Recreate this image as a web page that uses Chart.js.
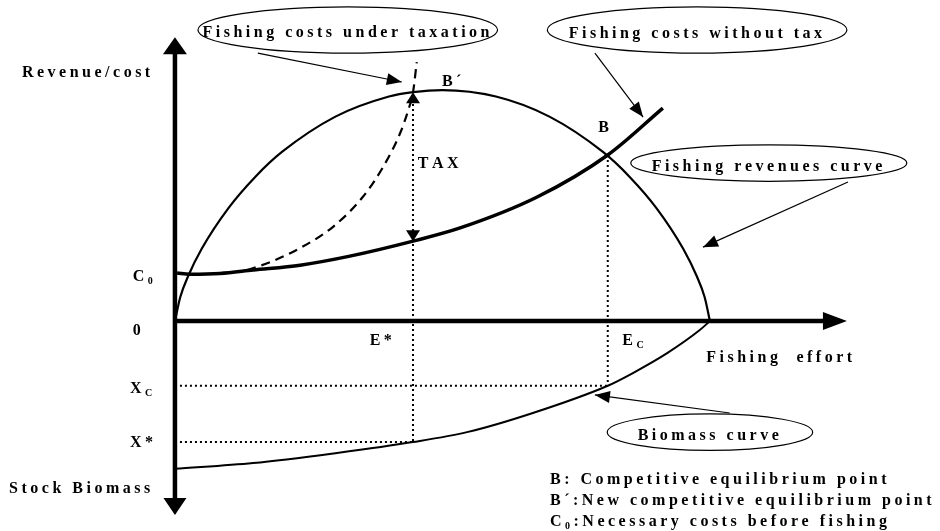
<!DOCTYPE html>
<html>
<head>
<meta charset="utf-8">
<script src="https://cdn.jsdelivr.net/npm/chart.js@4.4.1/dist/chart.umd.min.js"></script>
<style>
  html, body { margin: 0; padding: 0; background: #fff; }
</style>
</head>
<body>
<canvas id="fishChart" width="940" height="531"></canvas>
<script>
// scale extents (effort on x, revenue / biomass on y)
const effortRange = [-32.7, 143];
const valueRange = [-90.9, 139];

// fishing revenues curve
const revenueEffort = [0, 1, 2.5, 5, 10, 15, 20, 30, 40, 44.5, 50, 60, 70, 80, 85, 90, 95, 97.5, 99, 100];
const revenueValue = [0, 10.4, 19.6, 31.3, 48.9, 62.4, 73.2, 88.5, 97.2, 99.1, 100, 97.2, 88.5, 73.2, 62.4, 48.9, 31.3, 19.6, 10.4, 0];

// fishing costs without tax
const costEffort = [0.4, 2.8, 8.4, 14.6, 23.4, 32.7, 44.5, 53.3, 67.7, 80.9, 91.2];
const costValue = [20.8, 20.3, 20.6, 22.1, 24.2, 28.1, 34.6, 40.3, 53.7, 71.9, 92.2];

// fishing costs under taxation
const taxedEffort = [13.5, 17.8, 23.4, 29.5, 35.1, 38.9, 42.1, 43.6, 44.5, 45.2];
const taxedValue = [22.1, 25.5, 31.6, 40.7, 53.7, 66.7, 81.4, 91.3, 99.1, 112.1];

// biomass curve (drawn below the effort axis)
const biomassEffort = [0, 14.6, 30.3, 44.5, 54.6, 66.9, 80.9, 85.6, 92.0, 98.1, 100];
const biomassValue = [-64, -61.5, -57.1, -52.4, -48.1, -39.8, -28.0, -22.5, -13.9, -3.9, 0];

// equilibrium points
const effortStar = 44.5, effortC = 80.9;
const revenueAtStar = 99.1, costAtStar = 34.6, costAtC = 71.9;
const biomassStar = -52.4, biomassC = -28.0;

// axis extents: [from, to]
const valueAxis = [-84, 122.9];
const effortAxis = [0, 125.6];

// callouts: ellipse centre, radii (data units), text, pointer from -> to
const callouts = [
  { cx: 32.3, cy: 126.0, rx: 28.0, ry: 10.0, text: "Fishing costs under taxation", ty: 122.9, from: [15.5, 116.0], to: [42.4, 103.5] },
  { cx: 97.6, cy: 126.0, rx: 28.0, ry: 10.0, text: "Fishing costs without tax", ty: 122.7, from: [78.5, 116.0], to: [87.5, 88.3] },
  { cx: 111.0, cy: 68.4, rx: 25.8, ry: 7.9, text: "Fishing revenues curve", ty: 65.1, from: [125.8, 60.2], to: [98.7, 32.0] },
  { cx: 100.0, cy: -48.1, rx: 19.2, ry: 7.9, text: "Biomass curve", ty: -51.5, from: [103.7, -39.8], to: [78.5, -32.0] }
];

// plain labels: text, x, baseline y ("_" marks a subscript character)
const labels = [
  ["Revenue/cost", -28.6, 105.6],
  ["C_0", -7.9, 17.3],
  ["0", -7.9, -6.1],
  ["E*", 36.4, -10.4],
  ["E_C", 83.6, -10.4],
  ["Fishing  effort", 99.3, -17.7],
  ["X_C", -8.4, -31.2],
  ["X*", -8.4, -54.5],
  ["Stock Biomass", -31.0, -74.5],
  ["B\u00B4", 49.9, 101.7],
  ["B", 79.1, 81.8],
  ["TAX", 45.4, 66.2],
  ["B: Competitive equilibrium point", 70.1, -70.6],
  ["B\u00B4:New competitive equilibrium point", 70.1, -79.7],
  ["C_0:Necessary costs before fishing", 70.1, -88.7]
];

function pts(xs, ys) {
  return xs.map((x, i) => ({ x: x, y: ys[i] }));
}

function lineSet(data, width, dash, smooth) {
  return {
    data: data,
    showLine: true,
    borderColor: "#000",
    borderWidth: width,
    borderDash: dash || [],
    pointRadius: 0,
    fill: false,
    cubicInterpolationMode: smooth ? "monotone" : "default",
    tension: 0
  };
}

const dotted = [2, 3];
const datasets = [
  lineSet([{ x: 0, y: valueAxis[0] + 7 }, { x: 0, y: valueAxis[1] - 6 }], 4.5),
  lineSet([{ x: effortAxis[0], y: 0 }, { x: effortAxis[1] - 4, y: 0 }], 4.5),
  lineSet([{ x: effortStar, y: revenueAtStar - 3 }, { x: effortStar, y: biomassStar }], 2, dotted),
  lineSet([{ x: effortC, y: costAtC }, { x: effortC, y: biomassC }], 2, dotted),
  lineSet([{ x: 0, y: biomassC }, { x: effortC, y: biomassC }], 2, dotted),
  lineSet([{ x: 0, y: biomassStar }, { x: effortStar, y: biomassStar }], 2, dotted),
  lineSet(pts(revenueEffort, revenueValue), 2.2, null, true),
  lineSet(pts(costEffort, costValue), 3.5, null, true),
  lineSet(pts(taxedEffort, taxedValue), 2.2, [9, 6], true),
  lineSet(pts(biomassEffort, biomassValue), 2, null, true)
];

function head(ctx, tip, from, len, half) {
  const dx = tip[0] - from[0], dy = tip[1] - from[1];
  const d = Math.hypot(dx, dy);
  const ux = dx / d, uy = dy / d;
  const bx = tip[0] - ux * len, by = tip[1] - uy * len;
  ctx.beginPath();
  ctx.moveTo(tip[0], tip[1]);
  ctx.lineTo(bx - uy * half, by + ux * half);
  ctx.lineTo(bx + uy * half, by - ux * half);
  ctx.closePath();
  ctx.fill();
}

const FONT = "bold 16px 'Liberation Serif', 'Times New Roman', serif";
const SUBFONT = "bold 10px 'Liberation Serif', 'Times New Roman', serif";

function parts(s) {
  const out = [];
  for (let i = 0; i < s.length; i++) {
    if (s[i] === "_") { out.push([s[i + 1], true]); i++; }
    else out.push([s[i], false]);
  }
  return out;
}

function drawText(ctx, s, x, y, center) {
  const ps = parts(s);
  ctx.letterSpacing = "3.5px";
  let w = 0;
  ps.forEach(p => { ctx.font = p[1] ? SUBFONT : FONT; w += ctx.measureText(p[0]).width; });
  let cx = center ? x - w / 2 : x;
  ps.forEach(p => {
    ctx.font = p[1] ? SUBFONT : FONT;
    ctx.fillText(p[0], cx, p[1] ? y + 3 : y);
    cx += ctx.measureText(p[0]).width;
  });
}

const annotations = {
  id: "annotations",
  afterDatasetsDraw(chart) {
    const ctx = chart.ctx;
    const sx = chart.scales.x, sy = chart.scales.y;
    const P = (e, v) => [sx.getPixelForValue(e), sy.getPixelForValue(v)];
    ctx.save();
    ctx.fillStyle = "#000";
    ctx.strokeStyle = "#000";

    // axis arrow heads
    head(ctx, P(0, valueAxis[1]), P(0, 0), 17, 12);
    head(ctx, P(0, valueAxis[0]), P(0, 0), 17, 11.5);
    head(ctx, P(effortAxis[1], 0), P(0, 0), 24, 9);

    // tax arrow heads
    head(ctx, P(effortStar, revenueAtStar), P(effortStar, costAtStar), 11, 7);
    head(ctx, P(effortStar, costAtStar), P(effortStar, revenueAtStar), 11, 7);

    // callouts
    ctx.lineWidth = 1.2;
    ctx.textBaseline = "alphabetic";
    callouts.forEach(c => {
      const ctr = P(c.cx, c.cy);
      const rx = Math.abs(sx.getPixelForValue(c.cx + c.rx) - ctr[0]);
      const ry = Math.abs(sy.getPixelForValue(c.cy + c.ry) - ctr[1]);
      ctx.beginPath();
      ctx.ellipse(ctr[0], ctr[1], rx, ry, 0, 0, Math.PI * 2);
      ctx.stroke();
      const a = P(c.from[0], c.from[1]), b = P(c.to[0], c.to[1]);
      ctx.beginPath();
      ctx.moveTo(a[0], a[1]);
      ctx.lineTo(b[0], b[1]);
      ctx.stroke();
      head(ctx, b, a, 15, 6);
      drawText(ctx, c.text, ctr[0], sy.getPixelForValue(c.ty), true);
    });

    labels.forEach(l => {
      const p = P(l[1], l[2]);
      drawText(ctx, l[0], p[0], p[1], false);
    });
    ctx.restore();
  }
};

new Chart(document.getElementById("fishChart"), {
  type: "scatter",
  data: { datasets: datasets },
  options: {
    responsive: false,
    animation: false,
    events: [],
    layout: { padding: 0 },
    plugins: { legend: { display: false }, tooltip: { enabled: false } },
    scales: {
      x: { type: "linear", display: false, min: effortRange[0], max: effortRange[1] },
      y: { type: "linear", display: false, min: valueRange[0], max: valueRange[1] }
    }
  },
  plugins: [annotations]
});
</script>
</body>
</html>
